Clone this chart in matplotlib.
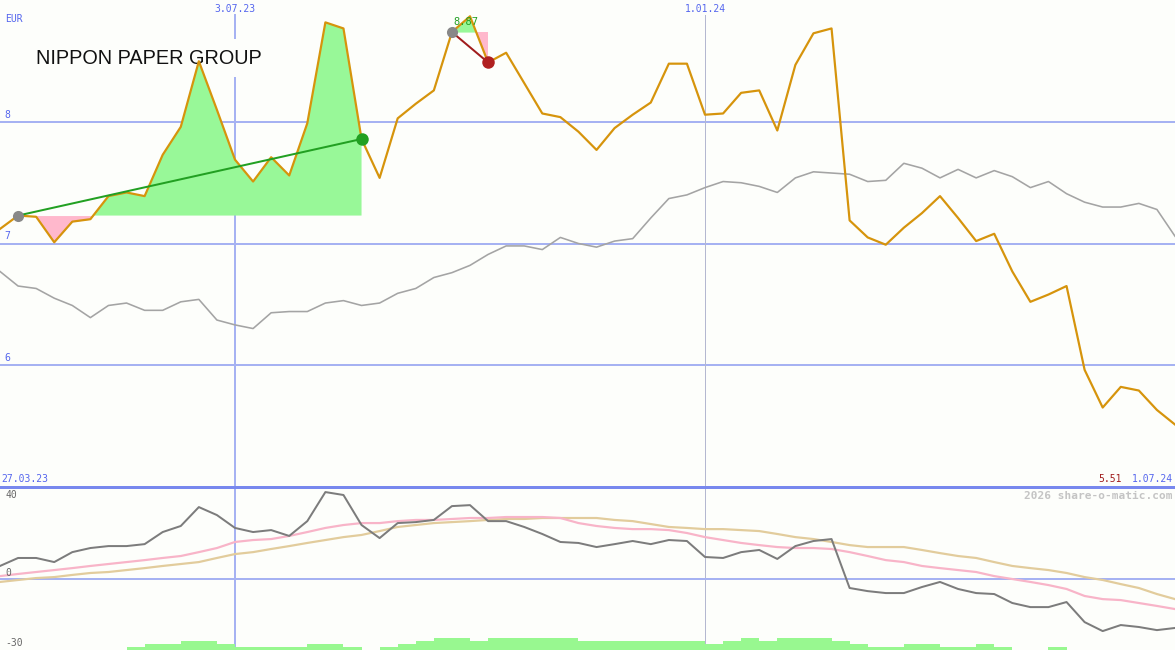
import matplotlib
matplotlib.use("Agg")
import matplotlib.pyplot as plt
import numpy as np

# ---------------- data (weekly, 3.04.23 .. 1.07.24) ----------------
price = [7.12, 7.23, 7.22, 7.01, 7.18, 7.20, 7.39, 7.42, 7.39, 7.73,
         7.96, 8.50, 8.10, 7.69, 7.51, 7.71, 7.56, 7.99, 8.82, 8.77,
         7.86, 7.54, 8.03, 8.15, 8.26, 8.74, 8.87, 8.49, 8.57, 8.32,
         8.07, 8.04, 7.92, 7.77, 7.95, 8.06, 8.16, 8.48, 8.48, 8.06,
         8.07, 8.24, 8.26, 7.93, 8.47, 8.73, 8.77, 7.19, 7.05, 6.99,
         7.13, 7.25, 7.39, 7.21, 7.02, 7.08, 6.77, 6.52, 6.58, 6.65,
         5.96, 5.65, 5.82, 5.79, 5.63, 5.51]

benchmark = [6.77, 6.65, 6.63, 6.55, 6.49, 6.39, 6.49, 6.51, 6.45, 6.45,
             6.52, 6.54, 6.37, 6.33, 6.30, 6.43, 6.44, 6.44, 6.51, 6.53,
             6.49, 6.51, 6.59, 6.63, 6.72, 6.76, 6.82, 6.91, 6.98, 6.98,
             6.95, 7.05, 7.00, 6.97, 7.02, 7.04, 7.21, 7.37, 7.40, 7.46,
             7.51, 7.50, 7.47, 7.42, 7.54, 7.59, 7.58, 7.57, 7.51, 7.52,
             7.66, 7.62, 7.54, 7.61, 7.54, 7.60, 7.55, 7.46, 7.51, 7.41,
             7.34, 7.30, 7.30, 7.33, 7.28, 7.06]

momentum = [6.7, 10.8, 10.8, 8.7, 13.8, 15.9, 16.9, 16.9, 17.9, 24.1,
            27.2, 36.9, 32.8, 26.2, 24.1, 25.1, 22.1, 29.7, 44.6, 43.1,
            27.7, 21.0, 28.7, 29.2, 30.3, 37.4, 37.9, 29.7, 29.7, 26.7,
            23.1, 19.0, 18.5, 16.4, 17.9, 19.5, 17.9, 20.0, 19.5, 11.3,
            10.8, 13.8, 14.9, 10.3, 16.9, 19.5, 20.5, -4.6, -6.2, -7.2,
            -7.2, -4.1, -1.5, -5.1, -7.2, -7.7, -12.3, -14.4, -14.4, -11.8,
            -22.1, -26.7, -23.6, -24.6, -26.2, -25.1]

avg_fast = [1.5, 2.6, 3.6, 4.6, 5.6, 6.7, 7.7, 8.7, 9.7, 10.8,
            11.8, 13.8, 15.9, 19.0, 20.0, 20.5, 22.1, 24.1, 26.2, 27.7,
            28.7, 28.7, 29.7, 30.3, 30.3, 30.8, 31.3, 31.3, 31.8, 31.8,
            31.8, 31.3, 28.7, 27.2, 26.2, 25.6, 25.6, 25.1, 23.6, 21.5,
            20.0, 18.5, 17.4, 16.4, 15.9, 15.9, 15.4, 13.8, 11.8, 9.7,
            8.7, 6.7, 5.6, 4.6, 3.6, 1.5, 0.0, -1.5, -3.1, -5.1,
            -8.7, -10.3, -10.8, -12.3, -13.8, -15.4]

avg_slow = [-1.5, -0.5, 0.5, 1.0, 2.1, 3.1, 3.6, 4.6, 5.6, 6.7,
            7.7, 8.7, 10.8, 12.8, 13.8, 15.4, 16.9, 18.5, 20.0, 21.5,
            22.6, 24.6, 26.7, 27.7, 28.7, 29.2, 29.7, 30.3, 30.8, 30.8,
            31.3, 31.3, 31.3, 31.3, 30.3, 29.7, 28.2, 26.7, 26.2, 25.6,
            25.6, 25.1, 24.6, 23.1, 21.5, 20.5, 19.0, 17.4, 16.4, 16.4,
            16.4, 14.9, 13.3, 11.8, 10.8, 8.7, 6.7, 5.6, 4.6, 3.1,
            1.0, -0.5, -2.6, -4.6, -7.7, -10.3]

volume_level = [0, 0, 0, 0, 0, 0, 0, 1, 2, 2,
                3, 3, 2, 1, 1, 1, 1, 2, 2, 1,
                0, 1, 2, 3, 4, 4, 3, 4, 4, 4,
                4, 4, 3, 3, 3, 3, 3, 3, 3, 2,
                3, 4, 3, 4, 4, 4, 3, 2, 1, 1,
                2, 2, 1, 1, 2, 1, 0, 0, 1, 0,
                0, 0, 0, 0, 0]

price_ticks = [6, 7, 8]
mom_ticks = [40, 0, -30]
date_marks = [(13, "3.07.23"), (39, "1.01.24")]
start_label = "27.03.23"
end_label = "1.07.24"
title = "NIPPON PAPER GROUP"
segments = [(1, 20), (25, 27)]   # (start week, end week) of the two marked moves

# ---------------- styling ----------------
BG = "#fdfefb"
GRID = "#a6b2f2"
LBL = "#5566ee"
ORANGE = "#d6940c"
W, H = 1175, 650
PX = 72 / 100.0  # points per pixel

fig = plt.figure(figsize=(W / 100, H / 100), dpi=100, facecolor=BG)
ax = fig.add_axes([0, 163 / H, 1, 487 / H], facecolor=BG)
axb = fig.add_axes([0, 0, 1, 163 / H], facecolor=BG)
axv = axb.twinx()
for a in (ax, axb, axv):
    a.set_axis_off()

x = np.arange(len(price))
n = len(price) - 1
ax.set_xlim(0, n)
ax.set_ylim(4.996, 9.004)
axb.set_xlim(0, n)
axb.set_ylim(-36.4, 47.2)
axv.set_xlim(0, n)
axv.set_ylim(0, 163 / 3)

mono = "DejaVu Sans Mono"

# grid lines and labels (main)
for t in price_ticks:
    ax.axhline(t, color=GRID, lw=2 * PX, zorder=1)
    ax.text(0.25, t + 0.02, str(t), color=LBL, fontsize=7, family=mono,
            va="bottom", ha="left", zorder=6)
fig.text(5 / W, 1 - 19 / H, "EUR", color=LBL, fontsize=7, family=mono,
         va="center", ha="left")

# vertical date lines
for i, (idx, lab) in enumerate(date_marks):
    col = GRID if i == 0 else "#b4b8d0"
    lw = 2 * PX if i == 0 else 1 * PX
    ax.plot([idx, idx], [4.996, 8.88], color=col, lw=lw, zorder=1)
    axb.axvline(idx, color=col, lw=lw, zorder=1)
    fig.text(idx / n, 1 - 9 / H, lab, color=LBL, fontsize=7, family=mono,
             ha="center", va="center")

# title with background box
ax.text(36 / W, 1 - 58 / 487, title, transform=ax.transAxes, fontsize=14.3,
        family="Liberation Sans", color="#111111", va="center", ha="left",
        zorder=2, bbox=dict(facecolor=BG, edgecolor="none", pad=7))

# benchmark
ax.plot(x, benchmark, color="#a4a4a4", lw=1.6 * PX, zorder=3)

# marked segments
pr = np.array(price)
for k, (s, e) in enumerate(segments):
    xs = x[s:e + 1]
    ys = pr[s:e + 1]
    base = pr[s]
    ax.fill_between(xs, base, ys, where=ys >= base, interpolate=True,
                    color="#98f898", lw=0, zorder=2)
    ax.fill_between(xs, base, ys, where=ys < base, interpolate=True,
                    color="#ffb8cc", lw=0, zorder=2)
    up = pr[e] >= base
    lc = "#22a022" if up else "#a01c1c"
    ax.plot([s, e], [base, pr[e]], color=lc, lw=2 * PX, zorder=5)
    ax.plot([s], [base], "o", color="#888888", ms=8, zorder=6, mec="none")
    ax.plot([e], [pr[e]], "o", color="#22a022" if up else "#b02020", ms=9,
            zorder=6, mec="none")
    if k == 1:
        top = int(np.argmax(ys)) + s
        ax.text(top - 0.25, pr[top] - 0.05, f"{pr[top]:.2f}", color="#22a022",
                fontsize=7.5, family=mono, ha="center", va="center", zorder=7)

# price line
ax.plot(x, price, color=ORANGE, lw=2 * PX * 1.1, zorder=4)

# bottom panel
axb.axhline(0, color=GRID, lw=2 * PX, zorder=1)
axv.bar(np.arange(len(volume_level)), volume_level, width=1.0, align="edge",
        color="#98f890", lw=0, zorder=1)
axb.plot(x, avg_slow, color="#e2cc9c", lw=2 * PX * 1.1, zorder=3)
axb.plot(x, avg_fast, color="#f8b4c8", lw=2 * PX * 1.1, zorder=3)
axb.plot(x, momentum, color="#7c7c7c", lw=2 * PX, zorder=4)
axb.text(0.3, mom_ticks[0] + 0.5, str(mom_ticks[0]), color="#666666",
         fontsize=7, family=mono, va="bottom", ha="left")
axb.text(0.3, mom_ticks[1] + 0.5, str(mom_ticks[1]), color="#666666",
         fontsize=7, family=mono, va="bottom", ha="left")
axb.text(0.3, mom_ticks[2], str(mom_ticks[2]), color="#666666",
         fontsize=7, family=mono, va="top", ha="left")

# separator line between panels
fig.add_artist(plt.Line2D([0, 1], [163 / H, 163 / H], color="#7888ee",
                          lw=3 * PX, transform=fig.transFigure))

# range labels
fig.text(1 / W, 1 - 479 / H, start_label, color=LBL, fontsize=7, family=mono,
         ha="left", va="center")
fig.text(1 - 2 / W, 1 - 479 / H, end_label, color=LBL, fontsize=7,
         family=mono, ha="right", va="center")
fig.text(1 - 53 / W, 1 - 479 / H, f"{price[-1]:.2f}", color="#a01c1c",
         fontsize=7, family=mono, ha="right", va="center")
fig.text(1 - 3 / W, 1 - 496 / H, "2026 share-o-matic.com", color="#c4c4c4",
         fontsize=8, family=mono, weight="bold", ha="right", va="center")

fig.savefig("out.png", dpi=100, facecolor=BG)
